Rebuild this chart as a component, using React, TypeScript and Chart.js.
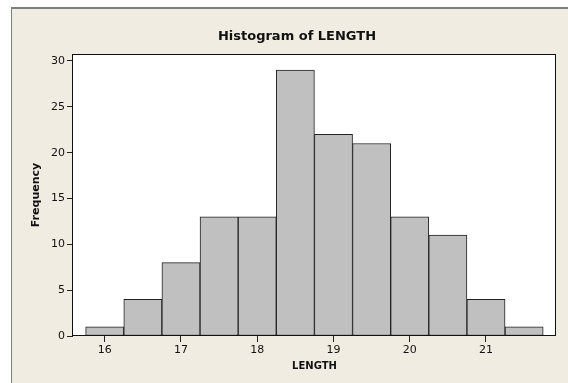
import React, { useEffect, useRef } from "react";
import { Chart, registerables } from "chart.js";

Chart.register(...registerables);

const binCenters = [16, 16.5, 17, 17.5, 18, 18.5, 19, 19.5, 20, 20.5, 21, 21.5];
const frequencies = [1, 4, 8, 13, 13, 29, 22, 21, 13, 11, 4, 1];
const chartTitle = "Histogram of LENGTH";
const xTitle = "LENGTH";
const yTitle = "Frequency";

const FONT = "'DejaVu Sans', Verdana, sans-serif";
const BEIGE = "#F0ECE2";

const framePlugin = {
  id: "frame",
  beforeDraw(chart: any) {
    const { ctx, width, height, chartArea } = chart;
    ctx.save();
    ctx.fillStyle = "#ffffff";
    ctx.fillRect(0, 0, width, height);
    ctx.fillStyle = BEIGE;
    ctx.fillRect(11, 8, width - 11, height - 8);
    ctx.fillStyle = "#7f7f7f";
    ctx.fillRect(11, 7, width - 11, 2);
    ctx.fillRect(11, 7, 1, height - 7);
    ctx.fillStyle = "#ffffff";
    ctx.fillRect(chartArea.left, chartArea.top, chartArea.right - chartArea.left, chartArea.bottom - chartArea.top);
    ctx.fillStyle = "#111";
    ctx.font = `bold 13px ${FONT}`;
    ctx.textAlign = "center";
    ctx.textBaseline = "middle";
    ctx.fillText(chartTitle, 297, 37);
    ctx.restore();
  },
  afterDatasetsDraw(chart: any) {
    const { ctx, chartArea } = chart;
    ctx.save();
    ctx.strokeStyle = "#111";
    ctx.lineWidth = 1;
    ctx.strokeRect(chartArea.left - 0.5, chartArea.top + 0.5, chartArea.right - chartArea.left, chartArea.bottom - chartArea.top - 1);
    ctx.restore();
  },
};

export default function App() {
  const ref = useRef<HTMLCanvasElement | null>(null);
  useEffect(() => {
    document.body.style.margin = "0";
    const canvas = ref.current!;
    const chart = new Chart(canvas, {
      type: "bar",
      data: {
        datasets: [
          {
            data: binCenters.map((x, i) => ({ x, y: frequencies[i] })),
            backgroundColor: "#C0C0C0",
            borderColor: "#222",
            borderWidth: 1,
            borderSkipped: false,
            barPercentage: 1,
            categoryPercentage: 1,
          },
        ],
      },
      options: {
        animation: false,
        responsive: false,
        devicePixelRatio: 1,
        layout: { padding: { left: 23, right: 12, top: 54, bottom: 7 } },
        plugins: {
          legend: { display: false },
          tooltip: { enabled: false },
          title: { display: false },
        },
        scales: {
          x: {
            type: "linear",
            min: 15.584,
            max: 21.918,
            offset: false,
            afterFit: (s: any) => {
              s.height = 40;
            },
            ticks: {
              stepSize: 1,
              includeBounds: false,
              padding: 2,
              color: "#111",
              font: { family: FONT, size: 11 },
              maxRotation: 0,
            },
            grid: {
              offset: false,
              drawOnChartArea: false,
              drawTicks: true,
              tickLength: 6,
              tickColor: "#222",
            },
            border: { display: false },
            title: {
              display: true,
              text: xTitle,
              color: "#111",
              font: { family: FONT, size: 10, weight: "bold" },
              padding: { top: 0, bottom: 4 },
            },
          },
          y: {
            type: "linear",
            min: 0,
            max: 30.76,
            afterFit: (s: any) => {
              s.width = 50;
            },
            ticks: {
              stepSize: 5,
              includeBounds: false,
              padding: 2,
              color: "#111",
              font: { family: FONT, size: 11 },
            },
            grid: {
              drawOnChartArea: false,
              drawTicks: true,
              tickLength: 6,
              tickColor: "#222",
            },
            border: { display: false },
            title: {
              display: true,
              text: yTitle,
              color: "#111",
              font: { family: FONT, size: 11, weight: "bold" },
              padding: { top: 6.4, bottom: 0 },
            },
          },
        },
      },
      plugins: [framePlugin],
    } as any);
    return () => chart.destroy();
  }, []);
  return (
    <div style={{ position: "fixed", left: 0, top: 0, width: 568, height: 383 }}>
      <canvas ref={ref} width={568} height={383} style={{ display: "block", width: 568, height: 383 }} />
    </div>
  );
}
